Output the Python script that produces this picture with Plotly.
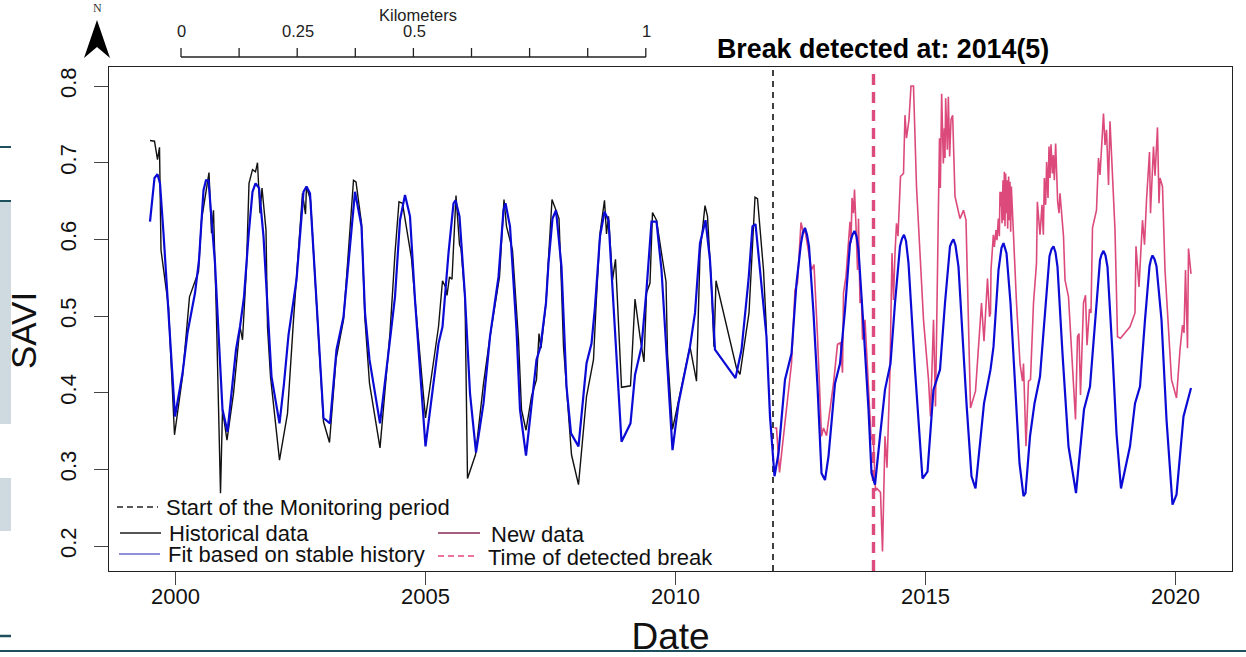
import plotly.graph_objects as go

hist_t = [1999.49,1999.58,1999.64,1999.68,1999.71,1999.86,1999.98,2000.14,2000.28,2000.46,2000.52,2000.67,2000.72,2000.76,2000.82,2000.90,2000.94,2001.03,2001.16,2001.29,2001.34,2001.42,2001.47,2001.54,2001.60,2001.64,2001.69,2001.73,2001.81,2001.84,2001.90,2002.08,2002.24,2002.36,2002.54,2002.60,2002.62,2002.70,2002.82,2002.96,2003.08,2003.21,2003.36,2003.46,2003.56,2003.61,2003.72,2003.79,2003.88,2004.09,2004.29,2004.39,2004.47,2004.54,2004.69,2004.72,2004.79,2005.00,2005.26,2005.34,2005.40,2005.43,2005.48,2005.53,2005.61,2005.68,2005.71,2005.79,2005.84,2006.00,2006.16,2006.29,2006.48,2006.57,2006.62,2006.74,2006.86,2006.92,2007.01,2007.12,2007.22,2007.27,2007.31,2007.41,2007.46,2007.53,2007.61,2007.67,2007.72,2007.76,2007.92,2008.06,2008.22,2008.36,2008.41,2008.49,2008.58,2008.62,2008.66,2008.74,2008.80,2008.92,2009.10,2009.19,2009.29,2009.37,2009.42,2009.49,2009.54,2009.62,2009.72,2009.81,2009.84,2009.94,2010.29,2010.42,2010.49,2010.59,2010.64,2010.72,2010.77,2010.81,2011.22,2011.29,2011.42,2011.47,2011.59,2011.64,2011.76,2011.82]
hist_v = [0.729,0.728,0.704,0.720,0.586,0.512,0.345,0.421,0.525,0.558,0.625,0.687,0.608,0.638,0.495,0.269,0.378,0.338,0.399,0.486,0.469,0.564,0.673,0.691,0.688,0.700,0.634,0.667,0.612,0.486,0.421,0.312,0.373,0.495,0.660,0.633,0.669,0.651,0.517,0.362,0.335,0.443,0.495,0.582,0.677,0.675,0.621,0.495,0.412,0.328,0.478,0.582,0.649,0.647,0.582,0.575,0.521,0.367,0.486,0.546,0.538,0.527,0.551,0.548,0.657,0.593,0.588,0.525,0.288,0.319,0.412,0.473,0.551,0.652,0.617,0.586,0.469,0.378,0.351,0.395,0.417,0.477,0.458,0.517,0.575,0.652,0.638,0.627,0.538,0.460,0.319,0.280,0.395,0.443,0.512,0.608,0.651,0.607,0.630,0.547,0.574,0.407,0.409,0.522,0.473,0.440,0.530,0.543,0.635,0.625,0.582,0.545,0.451,0.352,0.460,0.415,0.582,0.644,0.630,0.538,0.460,0.546,0.432,0.424,0.482,0.504,0.655,0.653,0.560,0.480]

new_t = [2011.98,2012.02,2012.08,2012.19,2012.32,2012.39,2012.44,2012.51,2012.56,2012.59,2012.72,2012.77,2012.84,2012.92,2012.96,2013.02,2013.16,2013.24,2013.30,2013.34,2013.36,2013.41,2013.46,2013.49,2013.51,2013.53,2013.56,2013.58,2013.61,2013.64,2013.66,2013.69,2013.72,2013.74,2013.79,2013.86,2013.91,2013.96,2014.00,2014.03,2014.10,2014.14,2014.19,2014.23,2014.29,2014.33,2014.36,2014.39,2014.42,2014.45,2014.50,2014.56,2014.59,2014.62,2014.67,2014.71,2014.76,2014.82,2014.96,2015.06,2015.10,2015.16,2015.20,
         2015.59,2015.69,2015.76,2015.81,2015.90,2016.00,2016.12,2016.17,2016.24,2016.28,
         2016.82,2016.89,2016.94,2016.96,2017.01,2017.06,2017.10,2017.16,2017.22,
         2017.76,2017.79,2017.86,2017.96,2018.00,2018.04,2018.07,2018.10,2018.16,2018.20,2018.23,2018.28,2018.31,2018.34,2018.42,2018.46,2018.49,2018.56,2018.59,2018.62,2018.66,2018.69,2018.79,2018.84,2018.90,2019.09,2019.19,2019.21,2019.27,2019.34,2019.38,2019.42,2019.48,2019.50,2019.56,2019.59,2019.64,2019.67,2019.69,2019.74,2019.79,2019.92,2020.02,2020.09,2020.14,2020.17,2020.20,2020.24,2020.26,2020.31]
new_v = [0.354,0.354,0.296,0.365,0.438,0.534,0.543,0.622,0.608,0.612,0.560,0.567,0.473,0.343,0.354,0.344,0.412,0.463,0.465,0.426,0.530,0.552,0.606,0.623,0.595,0.654,0.634,0.665,0.617,0.560,0.627,0.517,0.523,0.469,0.495,0.408,0.343,0.334,0.272,0.275,0.270,0.193,0.343,0.302,0.430,0.582,0.521,0.582,0.621,0.604,0.682,0.686,0.762,0.732,0.756,0.800,0.800,0.669,0.495,0.417,0.369,0.495,0.382,
         0.656,0.627,0.638,0.625,0.380,0.402,0.517,0.467,0.549,0.499,
         0.517,0.438,0.415,0.438,0.330,0.415,0.417,0.517,0.569,
         0.604,0.547,0.525,0.404,0.365,0.473,0.477,0.397,0.517,0.527,0.462,0.509,0.504,0.615,0.638,0.706,0.684,0.764,0.723,0.743,0.671,0.754,0.612,0.473,0.471,0.486,0.504,0.591,0.538,0.625,0.593,0.651,0.714,0.634,0.721,0.683,0.746,0.647,0.680,0.669,0.560,0.417,0.393,0.456,0.488,0.478,0.560,0.458,0.588,0.555]

# closer readings of the densely oscillating stretches of the new data
new_dense_t = [2015.26,2015.28,2015.297,2015.323,2015.357,2015.377,2015.39,2015.403,2015.437,2015.457,2015.483,2015.51,2015.543,
               2016.30,2016.31,2016.357,2016.377,2016.41,2016.43,2016.457,2016.477,2016.49,2016.50,2016.517,2016.53,2016.55,2016.563,2016.577,2016.59,2016.603,2016.617,2016.63,2016.643,2016.663,2016.677,2016.69,2016.703,2016.717,
               2017.237,2017.29,2017.33,2017.357,2017.377,2017.403,2017.423,2017.45,2017.47,2017.49,2017.51,2017.537,2017.557,2017.577,2017.603,2017.643,2017.67,2017.69]
new_dense_v = [0.647,0.732,0.667,0.790,0.699,0.745,0.706,0.784,0.717,0.786,0.708,0.756,0.762,
               0.503,0.560,0.606,0.590,0.612,0.599,0.627,0.604,0.662,0.643,0.662,0.621,0.677,0.625,0.688,0.617,0.686,0.634,0.677,0.614,0.682,0.625,0.675,0.610,0.669,
               0.649,0.606,0.645,0.606,0.680,0.645,0.701,0.654,0.721,0.680,0.724,0.686,0.710,0.677,0.725,0.649,0.634,0.660]

fit_t = [1999.49,1999.58,1999.64,1999.69,1999.76,1999.86,1999.99,2000.14,2000.24,2000.39,2000.47,2000.56,2000.61,2000.66,2000.79,2000.86,2000.94,2001.04,2001.14,2001.21,2001.29,2001.37,2001.46,2001.54,2001.60,2001.67,2001.76,2001.86,2001.92,2002.08,2002.17,2002.26,2002.42,2002.56,2002.62,2002.69,2002.82,2002.96,2003.09,2003.22,2003.36,2003.46,2003.59,2003.72,2003.79,2003.88,2004.09,2004.29,2004.39,2004.49,2004.59,2004.69,2004.79,2005.00,2005.26,2005.34,2005.46,2005.56,2005.60,2005.68,2005.79,2005.89,2006.01,2006.16,2006.29,2006.46,2006.56,2006.60,2006.69,2006.82,2006.89,2007.01,2007.22,2007.30,2007.41,2007.46,2007.54,2007.61,2007.72,2007.82,2007.91,2008.06,2008.22,2008.32,2008.39,2008.49,2008.58,2008.66,2008.76,2008.92,2009.10,2009.19,2009.32,2009.42,2009.52,2009.62,2009.72,2009.82,2009.94,2010.06,2010.29,2010.39,2010.49,2010.60,2010.69,2010.79,2011.20,2011.32,2011.46,2011.54,2011.60,2011.69,2011.82,2011.89,2011.98,2012.06,2012.19,2012.32,2012.42,2012.51,2012.59,2012.67,2012.76,2012.84,2012.92,2012.99,2013.06,2013.19,2013.29,2013.39,2013.49,2013.58,2013.66,2013.76,2013.86,2013.92,2013.99,2014.09,2014.19,2014.30,2014.39,2014.49,2014.57,2014.66,2014.79,2014.94,2015.04,2015.16,2015.29,2015.39,2015.49,2015.56,2015.66,2015.82,2015.92,2016.00,2016.17,2016.30,2016.36,2016.46,2016.56,2016.62,2016.70,2016.79,2016.88,2016.96,2017.00,2017.09,2017.18,2017.29,2017.39,2017.48,2017.56,2017.64,2017.74,2017.86,2018.01,2018.17,2018.29,2018.39,2018.49,2018.56,2018.64,2018.74,2018.82,2018.91,2019.09,2019.19,2019.29,2019.39,2019.48,2019.54,2019.62,2019.72,2019.82,2019.94,2020.02,2020.16,2020.31]
fit_v = [0.623,0.680,0.685,0.673,0.608,0.504,0.369,0.425,0.478,0.530,0.573,0.664,0.677,0.677,0.569,0.478,0.378,0.349,0.412,0.456,0.486,0.525,0.604,0.662,0.673,0.667,0.604,0.482,0.421,0.360,0.412,0.475,0.547,0.662,0.669,0.660,0.525,0.367,0.360,0.456,0.499,0.569,0.662,0.617,0.504,0.443,0.360,0.469,0.525,0.625,0.658,0.630,0.521,0.330,0.464,0.486,0.582,0.647,0.651,0.630,0.525,0.399,0.322,0.386,0.473,0.551,0.638,0.647,0.617,0.482,0.378,0.318,0.443,0.460,0.517,0.569,0.627,0.638,0.564,0.408,0.347,0.330,0.438,0.464,0.512,0.604,0.636,0.625,0.517,0.336,0.360,0.423,0.460,0.534,0.623,0.623,0.560,0.451,0.325,0.386,0.460,0.504,0.595,0.625,0.573,0.456,0.419,0.456,0.547,0.617,0.620,0.560,0.473,0.369,0.291,0.321,0.417,0.451,0.543,0.595,0.615,0.591,0.504,0.408,0.295,0.286,0.317,0.412,0.438,0.508,0.595,0.611,0.586,0.486,0.378,0.295,0.280,0.343,0.404,0.438,0.517,0.591,0.606,0.569,0.430,0.288,0.297,0.404,0.430,0.517,0.591,0.600,0.564,0.386,0.291,0.275,0.386,0.430,0.460,0.560,0.595,0.582,0.517,0.408,0.308,0.265,0.269,0.343,0.386,0.421,0.508,0.578,0.591,0.564,0.451,0.330,0.269,0.378,0.408,0.491,0.573,0.585,0.564,0.451,0.347,0.275,0.330,0.386,0.408,0.495,0.565,0.579,0.565,0.495,0.365,0.254,0.267,0.369,0.406]

# extra readings on the rounded tops of the fitted curve
fit_top_t = [2012.55,2012.63,2013.54,2013.62,2014.53,2014.61,2015.53,2015.60,2016.52,2017.52,2017.60,2018.52,2018.60,2019.51,2019.58]
fit_top_v = [0.609,0.606,0.606,0.604,0.601,0.598,0.597,0.592,0.589,0.587,0.583,0.580,0.579,0.574,0.574]

monitor_start = 2011.95
break_time = 2013.96
x_ticks = [2000, 2005, 2010, 2015, 2020]
y_ticks = [0.2, 0.3, 0.4, 0.5, 0.6, 0.7, 0.8]
scale_ticks = ["0", "0.25", "0.5", "1"]

fit_pairs = sorted(zip(fit_t + fit_top_t, fit_v + fit_top_v))
fit_all_t = [p[0] for p in fit_pairs]
fit_all_v = [p[1] for p in fit_pairs]
new_pairs = sorted(zip(new_t + new_dense_t, new_v + new_dense_v))
new_all_t = [p[0] for p in new_pairs]
new_all_v = [p[1] for p in new_pairs]

FONT = "Liberation Sans"
W, H = 1246, 657
L, R, T, B = 109, 1232, 67, 571
fx = lambda p: (p - L) / (R - L)
fy = lambda p: (B - p) / (B - T)

fig = go.Figure()
fig.add_trace(go.Scatter(x=hist_t, y=hist_v, mode="lines", name="Historical data",
                         line=dict(color="#111111", width=1.4)))
fig.add_trace(go.Scatter(x=new_all_t, y=new_all_v, mode="lines", name="New data",
                         line=dict(color="#dc4a7c", width=1.6)))
fig.add_trace(go.Scatter(x=fit_all_t, y=fit_all_v, mode="lines", name="Fit based on stable history",
                         line=dict(color="#0b0bd6", width=2.2)))

shapes = [
    dict(type="line", xref="x", yref="paper", x0=monitor_start, x1=monitor_start, y0=0, y1=1,
         line=dict(color="#111111", width=1.6, dash="6px,5px"), layer="below"),
    dict(type="line", xref="x", yref="paper", x0=break_time, x1=break_time, y0=0, y1=1,
         line=dict(color="#dd4a7e", width=3.4, dash="11px,7px"), layer="below"),
]
annotations = []


def pline(x0, y0, x1, y1, color, width, dash=None):
    shapes.append(dict(type="line", xref="paper", yref="paper", x0=fx(x0), x1=fx(x1), y0=fy(y0), y1=fy(y1),
                       line=dict(color=color, width=width, dash=dash or "solid")))


def label(x, y, s, size, anchor="left", color="#111111", bold=False, family=FONT, angle=0):
    annotations.append(dict(xref="paper", yref="paper", x=fx(x), y=fy(y), text=f"<b>{s}</b>" if bold else s,
                            showarrow=False, xanchor=anchor, yanchor="middle", textangle=angle,
                            font=dict(family=family, size=size, color=color), borderpad=0, borderwidth=0))


# legend (drawn by hand: the original has two irregular columns)
pline(117, 507, 158, 507, "#222222", 1.3, "6px,4px")
label(166, 507, "Start of the Monitoring period", 22)
pline(120, 533, 161, 533, "#555555", 2)
label(169, 533, "Historical data", 22)
pline(119, 554, 160, 554, "#6a6ad0", 1.6)
label(168, 554, "Fit based on stable history", 22)
pline(438, 533, 480, 533, "#a5607f", 2)
label(491, 534, "New data", 22)
pline(438, 556, 478, 556, "#e8457f", 1.4, "6px,4px")
label(488, 557, "Time of detected break", 22)

# title
label(717, 49, "Break detected at: 2014(5)", 26.8, bold=True, color="#000000")

# map scale bar
pline(181, 57, 646, 57, "#222222", 1.3)
for i in range(9):
    px = 181 + i * 58.1
    pline(px, 48, px, 57, "#222222", 1.3)
for px, s in zip([181, 298, 414, 646], scale_ticks):
    label(px, 31, s, 16.5, anchor="center", color="#222222")
label(418, 15, "Kilometers", 16.5, anchor="center", color="#222222")

# north arrow
shapes.append(dict(type="path", xref="paper", yref="paper", fillcolor="#000000", line=dict(width=0),
                   path=f"M {fx(97)} {fy(20)} L {fx(110)} {fy(58)} L {fx(97)} {fy(47)} L {fx(84)} {fy(58)} Z"))
label(97, 8, "N", 12, anchor="center", family="Liberation Serif", color="#333333")

# y axis title, centred lower than the plot area as in the original
label(24, 330, "SAVI", 35, anchor="center", angle=-90)

# slide fragments around the picture
BAR = "#cfd9e0"
TEAL = "#1d4f5c"
for y0, y1 in [(200, 424), (478, 531)]:
    shapes.append(dict(type="rect", xref="paper", yref="paper", x0=fx(0), x1=fx(11), y0=fy(y0), y1=fy(y1),
                       fillcolor=BAR, line=dict(width=0), layer="below"))
pline(0, 201, 11, 201, TEAL, 2)
pline(0, 147, 11, 147, TEAL, 2)
pline(0, 636, 11, 636, TEAL, 2.5)
pline(0, 651, W, 651, TEAL, 2)

fig.update_layout(
    width=W, height=H, margin=dict(l=L, r=W - R, t=T, b=H - B, pad=0, autoexpand=False),
    paper_bgcolor="#ffffff", plot_bgcolor="#ffffff", showlegend=False,
    font=dict(family=FONT, color="#111111"), shapes=shapes, annotations=annotations,
    xaxis=dict(range=[1998.67, 2021.13], tickmode="array", tickvals=x_ticks, ticks="outside", ticklen=13,
               tickwidth=1.2, tickcolor="#444444", tickfont=dict(size=22), ticklabelstandoff=-8,
               showgrid=False, zeroline=False, showline=True, mirror=True, linecolor="#222222", linewidth=1.3,
               title=dict(text="Date", font=dict(size=37), standoff=22)),
    yaxis=dict(range=[0.1674, 0.8248], tickmode="array", tickvals=y_ticks, tickformat=".1f", ticks="outside",
               ticklen=14, tickwidth=1.2, tickcolor="#444444", tickfont=dict(size=22), tickangle=-90,
               ticklabelstandoff=9,
               showgrid=False, zeroline=False, showline=True, mirror=True, linecolor="#222222", linewidth=1.3),
)

fig.write_html("out.html", config={"displayModeBar": False},
               post_script="document.body.style.margin='0';document.documentElement.style.overflow='hidden';")
